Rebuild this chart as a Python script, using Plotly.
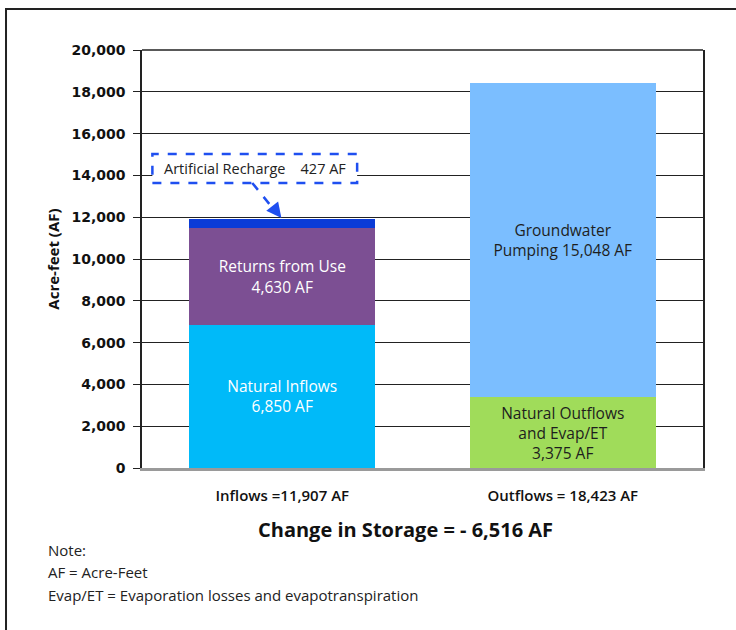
import plotly.graph_objects as go

# ---- data ----
categories = ["Inflows", "Outflows"]
tick_labels = ["Inflows =11,907 AF", "Outflows = 18,423 AF"]

inflow_names = ["Natural Inflows", "Returns from Use", "Artificial Recharge"]
inflow_values = [6850, 4630, 427]
inflow_labels = ["Natural Inflows<br>6,850 AF", "Returns from Use<br>4,630 AF", ""]

outflow_names = ["Natural Outflows and Evap/ET", "Groundwater Pumping"]
outflow_values = [3375, 15048]
outflow_labels = ["Natural Outflows<br>and Evap/ET<br>3,375 AF", "Groundwater<br>Pumping 15,048 AF"]

y_ticks = [0, 2000, 4000, 6000, 8000, 10000, 12000, 14000, 16000, 18000, 20000]
y_range = [0, 20000]

callout_text = "Artificial Recharge    427 AF"
summary_text = "Change in Storage = - 6,516 AF"
notes = ["Note:", "AF = Acre-Feet", "Evap/ET = Evaporation losses and evapotranspiration"]

# ---- styles ----
inflow_colors = ["#00BAF9", "#7C4F93", "#0A3BD6"]
inflow_text_colors = ["white", "white", "white"]
outflow_colors = ["#A0DC5A", "#7BBEFF"]
outflow_text_colors = ["#1E1E1E", "#1E1E1E"]
body_font = "Open Sans, Noto Sans, sans-serif"

fig = go.Figure()

for name, val, lab, col, tcol in zip(inflow_names, inflow_values, inflow_labels, inflow_colors, inflow_text_colors):
    fig.add_trace(go.Bar(
        x=[categories[0]], y=[val], name=name, marker=dict(color=col, line=dict(width=0)),
        text=[lab], textposition="inside", insidetextanchor="middle",
        textfont=dict(family=body_font, size=15.5, color=tcol), hoverinfo="name+y",
    ))
for name, val, lab, col, tcol in zip(outflow_names, outflow_values, outflow_labels, outflow_colors, outflow_text_colors):
    fig.add_trace(go.Bar(
        x=[categories[1]], y=[val], name=name, marker=dict(color=col, line=dict(width=0)),
        text=[lab], textposition="inside", insidetextanchor="middle",
        textfont=dict(family=body_font, size=15.5, color=tcol), hoverinfo="name+y",
    ))

fig.update_layout(
    width=736, height=630,
    margin=dict(l=142, r=33, t=50, b=162),
    barmode="stack", bargap=0.337,
    showlegend=False,
    paper_bgcolor="white", plot_bgcolor="white",
    font=dict(family=body_font, color="#111"),
)

fig.update_xaxes(
    type="category", categoryorder="array", categoryarray=categories,
    tickmode="array", tickvals=categories, ticktext=tick_labels,
    tickfont=dict(family=body_font, size=15, color="#111", weight=600),
    showline=True, linecolor="#9A9A9A", linewidth=3,
    ticks="", ticklabelstandoff=12, showgrid=False,
)
fig.update_yaxes(
    range=y_range, tickmode="array", tickvals=y_ticks, tickformat=",d",
    tickfont=dict(family="DejaVu Sans, sans-serif", size=14, color="#111", weight="bold"),
    showgrid=True, gridcolor="#222", gridwidth=1.3,
    zeroline=False,
    showline=True, linecolor="#222", linewidth=1.5, mirror=True,
    ticks="outside", ticklen=7, tickcolor="#222", tickwidth=1.3, ticklabelstandoff=5,
    title=dict(text="Acre-feet (AF)", standoff=8,
               font=dict(family=body_font, size=15, color="#111", weight="bold")),
)

# top border of plot area
fig.add_shape(type="line", xref="paper", yref="paper", x0=0, x1=1, y0=1, y1=1,
              line=dict(color="#222", width=1.5), layer="above")

# outer frame (left and top edges visible)
fig.add_shape(type="rect", xref="paper", yref="paper",
              x0=-0.2424, x1=1.08, y0=-0.42, y1=1.098,
              line=dict(color="#222", width=2), fillcolor="rgba(0,0,0,0)", layer="above")

# callout box (dashed) in data coords
blue = "#1F4FF0"
fig.add_shape(type="rect", xref="x", yref="y", x0=-0.463, x1=0.267, y0=13640, y1=15020,
              line=dict(color=blue, width=2.5, dash="dash"), fillcolor="white", layer="above")
fig.add_annotation(x=-0.098, y=14330, xref="x", yref="y", text=callout_text, showarrow=False,
                   font=dict(family=body_font, size=14.5, color="#222"))
# dashed arrow shaft
fig.add_shape(type="line", xref="x", yref="y", x0=-0.107, y0=13640, x1=-0.02, y1=12200,
              line=dict(color=blue, width=2.5, dash="dash"), layer="above")
# arrow head
fig.add_annotation(x=-0.003, y=11960, xref="x", yref="y", text="", showarrow=True,
                   ax=-7, ay=-9, arrowhead=2, arrowsize=1.2, arrowwidth=2.5, arrowcolor=blue)

# summary text
fig.add_annotation(x=0.469, y=-0.146, xref="paper", yref="paper", text=summary_text,
                   showarrow=False, xanchor="center", yanchor="middle",
                   font=dict(family=body_font, size=20, color="#111", weight="bold"))

# notes
note_y = [-0.196, -0.248, -0.305]
for t, yy in zip(notes, note_y):
    fig.add_annotation(x=-0.172, y=yy, xref="paper", yref="paper", text=t, showarrow=False,
                       xanchor="left", yanchor="middle",
                       font=dict(family=body_font, size=15, color="#222"))

fig.write_html("out.html", config={"displayModeBar": False},
               post_script="document.body.style.margin='0';")
